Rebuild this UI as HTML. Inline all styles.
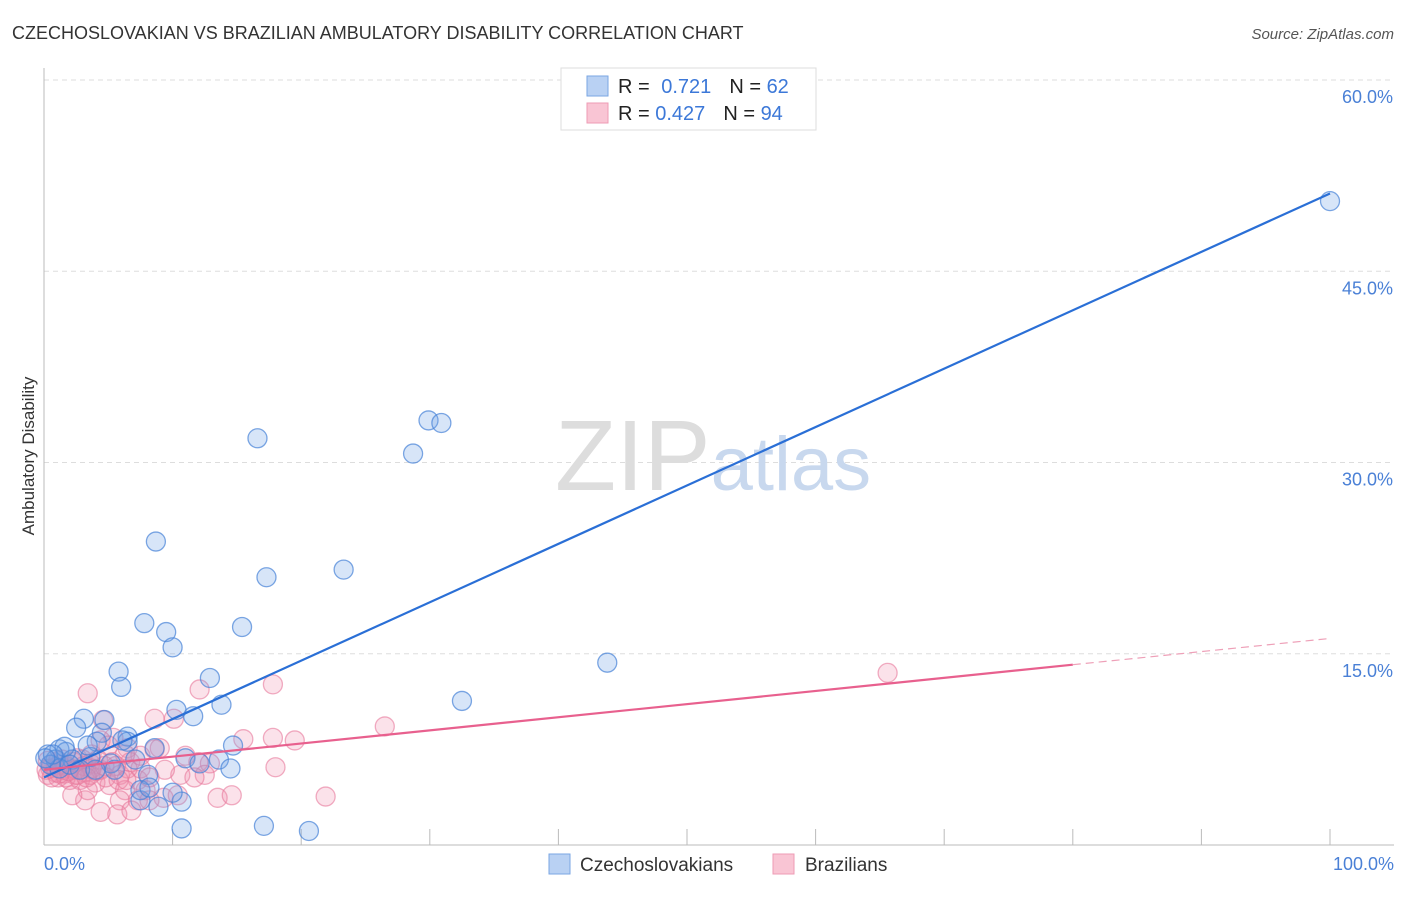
<!DOCTYPE html>
<html><head><meta charset="utf-8"><style>
body{margin:0;background:#fff;font-family:"Liberation Sans",sans-serif;}
svg text{font-family:"Liberation Sans",sans-serif;}
</style></head><body>
<svg id="chart" width="1406" height="892" xmlns="http://www.w3.org/2000/svg">
<text x="12" y="39" font-size="18" fill="#333">CZECHOSLOVAKIAN VS BRAZILIAN AMBULATORY DISABILITY CORRELATION CHART</text>
<text x="1394" y="39" font-size="15" fill="#555" text-anchor="end" font-style="italic">Source: ZipAtlas.com</text>
<text transform="translate(34,456) rotate(-90)" font-size="17" fill="#333" text-anchor="middle">Ambulatory Disability</text>
<g id="grid"></g>
<text x="555" y="490" font-size="100" fill="#ddd" font-family="Liberation Serif">ZIP<tspan fill="#c8d8ee" font-family="Liberation Sans" font-size="76">atlas</tspan></text>
<g id="pts"></g>
<g id="lines"></g>
<g>
<rect x="561" y="68" width="255" height="62" fill="#fff" stroke="#ddd"/>
<rect x="587" y="76" width="21" height="20" fill="#b9d1f3" stroke="#7aa6e3"/>
<rect x="587" y="103" width="21" height="20" fill="#f9c5d4" stroke="#ee9bb4"/>
<text x="618" y="93" font-size="20" fill="#222">R = <tspan fill="#3c78d8" dx="6">0.721</tspan><tspan dx="18" fill="#222">N = </tspan><tspan fill="#3c78d8">62</tspan></text>
<text x="618" y="120" font-size="20" fill="#222">R = <tspan fill="#3c78d8">0.427</tspan><tspan dx="18" fill="#222">N = </tspan><tspan fill="#3c78d8">94</tspan></text>
</g>
<g>
<rect x="549" y="854" width="21" height="20" fill="#b9d1f3" stroke="#7aa6e3"/>
<text x="580" y="871" font-size="19" fill="#333">Czechoslovakians</text>
<rect x="773" y="854" width="21" height="20" fill="#f9c5d4" stroke="#ee9bb4"/>
<text x="805" y="871" font-size="19" fill="#333">Brazilians</text>
</g>
</svg>
<script>
const yTicks=[15,30,45,60];
const yTickLabels=["15.0%","30.0%","45.0%","60.0%"];
const xTickLabels=["0.0%","100.0%"];
const blueX=[100,29.9,30.9,16.6,28.7,8.7,17.3,23.3,7.8,15.4,9.5,10,43.8,5.8,12.9,6,32.5,13.8,10.3,11.6,4.7,3.1,2.5,4.5,6.5,6.5,4.1,6.1,8.6,11,13.6,14.7,1.2,1.7,0.3,0.9,2.2,3.6,14.5,8.1,5.2,7.5,8.9,10.7,10,10.7,17.1,20.6,7.5,8.2,3.4,1.6,0.5,1.2,2,2.8,4,5.5,12.1,7.1,0.7,0.1];
const blueY=[50.5,33.3,33.1,31.9,30.7,23.8,21,21.6,17.4,17.1,16.7,15.5,14.3,13.6,13.1,12.4,11.3,11,10.6,10.1,9.8,9.9,9.2,8.8,8.5,8.1,8.1,8.2,7.6,6.8,6.7,7.8,7.5,7.3,7.1,6.7,6.7,6.9,6,5.5,6.4,3.5,3,3.4,4.1,1.3,1.5,1.1,4.3,4.5,7.8,7.7,6.3,6,6.3,5.9,5.9,5.9,6.4,6.7,7.1,6.8];
const pinkX=[65.6,3.4,17.8,12.1,26.5,8.6,10.1,15.5,17.8,19.5,18,4.6,5.4,6.5,9,6.7,12,12.9,7.3,10.6,12.5,11.7,5.9,4.4,3.6,3.2,2.4,2,1.4,0.9,0.5,0.3,1.1,1.7,2.8,4,5.1,6.3,7.9,9.3,5.9,7.3,10.4,3.2,3.4,2.2,4.4,5.7,6.8,13.5,14.6,21.9,1.4,2.6,3.7,5,7.5,8.2,9.4,11,1.2,0.6,0.2,0.9,1.7,2.3,3,4.2,5.3,6.5,3.6,4.8,5.8,7.5,8.6,4.4,6.3,1.6,2,0.3,0.6,1.1,2.5,3.1,3.7,4.7,5.6,6.4,8.2,1.2,1.9,2.6,3.3,4]; 
const pinkY=[13.5,11.9,12.6,12.2,9.3,9.9,9.9,8.3,8.4,8.2,6.1,9.8,8.4,7.6,7.6,6.5,6.5,6.4,5.1,5.5,5.5,5.3,5.5,5.9,6.4,5.7,5.5,6,5.9,5.7,6,5.5,5.3,5.3,5.1,4.9,4.7,4.3,4.3,3.7,3.5,3.5,3.9,3.5,4.3,3.9,2.6,2.4,2.7,3.7,3.9,3.8,6.7,6.8,7.1,7.8,6,5.3,5.9,7,6.3,6.3,5.9,6.1,6.2,6.5,6.7,6.7,6.5,6,5.5,5.3,5.1,7,7.5,8.2,7.1,5.6,5.1,6.6,5.3,6.6,5.9,6.2,6,6.2,6.2,5.1,3.5,5.6,5.8,5.5,5.3,5.8];
const blueFit=[5.3,51.1];
const pinkFit=[5.9,16.2];
const pinkSolidEnd=80;
const NS="http://www.w3.org/2000/svg";
const xs=v=>44+v*12.86, ys=v=>845-v*12.75;
function mk(tag,attrs,parent){const e=document.createElementNS(NS,tag);for(const k in attrs)e.setAttribute(k,attrs[k]);parent.appendChild(e);return e;}
const grid=document.getElementById('grid');
yTicks.forEach((t,i)=>{
 const l=mk('line',{x1:44,x2:1394,y1:ys(t),y2:ys(t),stroke:'#ddd','stroke-dasharray':'5,4'},grid);
 
 
 const tx=mk('text',{x:1393,y:ys(t)+23,'font-size':18,fill:'#4a80d6','text-anchor':'end'},grid);
 tx.textContent=yTickLabels[i];
 
 
});
const ax=mk('line',{x1:44,x2:44,y1:68,y2:845,stroke:'#bbb'},grid);


const bx=mk('line',{x1:44,x2:1394,y1:845,y2:845,stroke:'#bbb'},grid);


for(let i=1;i<=10;i++){
 const t=mk('line',{x1:xs(i*10),x2:xs(i*10),y1:829,y2:845,stroke:'#bbb'},grid);
 
 
}
[[0,'start',44],[100,'end',1394]].forEach((a,i)=>{
 const tx=mk('text',{x:a[2],y:870,'font-size':18,fill:'#4a80d6','text-anchor':a[1]},grid);
 tx.textContent=xTickLabels[i];
 
 
});
const pts=document.getElementById('pts');
pinkX.forEach((x,i)=>{
 const c=mk('circle',{cx:xs(x),cy:ys(pinkY[i]),r:9.5,fill:'rgba(240,140,170,0.25)',stroke:'rgba(232,120,155,0.6)','stroke-width':1.3},pts);
 
 
});
blueX.forEach((x,i)=>{
 const c=mk('circle',{cx:xs(x),cy:ys(blueY[i]),r:9.5,fill:'rgba(110,160,230,0.28)',stroke:'rgba(70,130,215,0.7)','stroke-width':1.3},pts);
 
 
});
const lines=document.getElementById('lines');
const bl=mk('line',{x1:xs(0),y1:ys(blueFit[0]),x2:xs(100),y2:ys(blueFit[1]),stroke:'#2a6fd6','stroke-width':2.2},lines);


const pAt=x=>pinkFit[0]+(pinkFit[1]-pinkFit[0])*x/100;
const pl=mk('line',{x1:xs(0),y1:ys(pAt(0)),x2:xs(pinkSolidEnd),y2:ys(pAt(pinkSolidEnd)),stroke:'#e8608e','stroke-width':2.2},lines);


const pd=mk('line',{x1:xs(pinkSolidEnd),y1:ys(pAt(pinkSolidEnd)),x2:xs(100),y2:ys(pAt(100)),stroke:'#eea0b8','stroke-width':1.2,'stroke-dasharray':'8,5'},lines);


</script>
</body></html>
